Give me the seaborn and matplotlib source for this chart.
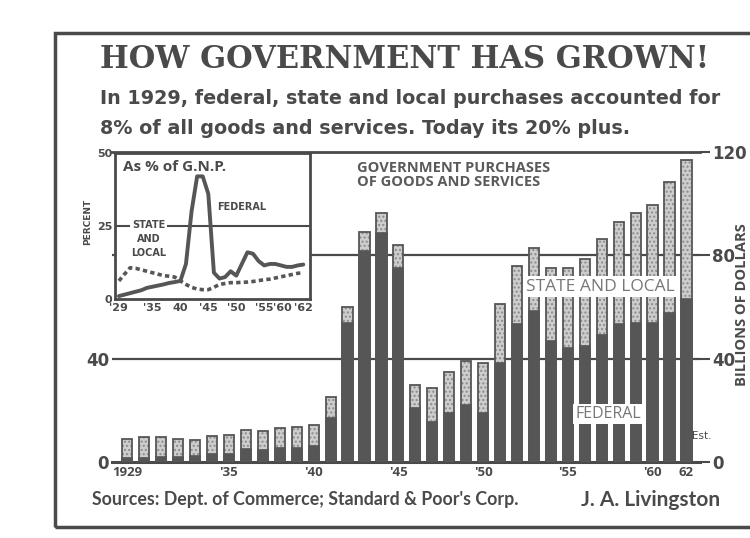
import matplotlib
matplotlib.use("Agg")
import matplotlib.pyplot as plt
import seaborn as sns
import pandas as pd
from matplotlib.patches import Rectangle

# ---------------- data ----------------
years = list(range(1929, 1963))
total_purchases = [9.0, 9.5, 9.7, 8.8, 8.5, 10.0, 10.5, 12.5, 12.0, 13.2, 13.5, 14.5,
                   25.0, 60.0, 89.0, 96.5, 84.0, 30.0, 28.5, 35.0, 39.0, 38.5,
                   61.0, 76.0, 83.0, 75.0, 75.0, 78.5, 86.5, 93.0, 96.5, 99.5, 108.5, 117.0]
federal_purchases = [1.5, 1.6, 1.8, 1.8, 2.2, 3.0, 3.0, 5.0, 4.8, 5.5, 5.3, 6.2,
                     17.0, 54.0, 81.5, 88.5, 75.0, 21.0, 15.5, 19.0, 22.0, 19.0,
                     38.5, 53.5, 58.5, 47.0, 44.0, 45.0, 49.0, 53.5, 54.0, 54.0, 57.7, 63.0]
federal_pct_gnp = [1.0, 1.5, 2.0, 2.5, 3.0, 3.8, 4.2, 4.6, 5.0, 5.5, 5.8, 6.2,
                   12.0, 30.0, 42.0, 42.0, 36.0, 9.0, 7.0, 7.5, 9.5, 8.0,
                   12.0, 16.0, 15.5, 13.0, 11.5, 12.0, 12.0, 11.5, 11.0, 11.0, 11.5, 11.8]
state_local_pct_gnp = [6.2, 8.5, 10.7, 10.5, 10.0, 9.5, 9.0, 8.5, 8.0, 7.8, 7.5, 6.2,
                       5.0, 4.0, 3.4, 3.2, 3.2, 4.0, 5.0, 5.3, 5.6, 5.6,
                       5.7, 5.8, 6.0, 6.3, 6.6, 6.8, 7.2, 7.6, 8.0, 8.4, 8.8, 9.0]
bar_tick_years = [1929, 1935, 1940, 1945, 1950, 1955, 1960, 1962]
bar_tick_labels = ["1929", "'35", "'40", "'45", "'50", "'55", "'60", "62"]
inset_tick_years = [1929, 1935, 1940, 1945, 1950, 1955, 1960, 1962]
inset_tick_labels = ["'29", "'35", "40", "'45", "'50", "'55", "'60", "'62"]

df = pd.DataFrame({"year": [str(y) for y in years],
                   "total": total_purchases,
                   "federal": federal_purchases})
dfp = pd.DataFrame({"year": years, "federal": federal_pct_gnp,
                    "state": state_local_pct_gnp})

# ---------------- style ----------------
sns.set_style("white")
plt.rcParams["font.family"] = ["DejaVu Sans"]
plt.rcParams["hatch.linewidth"] = 1.0
INK = "#4a4a4a"
DARK = "#565656"
LIGHT = "#cdcdcd"

W, H = 750, 538
fig = plt.figure(figsize=(7.5, 5.38), dpi=100)
fig.patch.set_facecolor("white")

def fx(x):
    return x / W

def fy(y):
    return 1 - y / H

# outer frame
fig.patches.append(Rectangle((fx(55), fy(527)), fx(760) - fx(55), fy(33) - fy(527),
                             transform=fig.transFigure, fill=False,
                             edgecolor=INK, linewidth=2.5, zorder=0))

# ---------------- main axes ----------------
ax = fig.add_axes([fx(112), fy(462), fx(700) - fx(112), fy(152) - fy(462)])
ax.set_facecolor("none")
sns.barplot(data=df, x="year", y="total", color=LIGHT, width=0.6,
            edgecolor="#8c8c8c", linewidth=0, saturation=1, ax=ax, zorder=3,
            hatch="....")
sns.barplot(data=df, x="year", y="federal", color=DARK, width=0.6,
            edgecolor=DARK, linewidth=1.2, saturation=1, ax=ax, zorder=4)
sns.barplot(data=df, x="year", y="total", color=DARK, width=0.6, fill=False,
            linewidth=1.3, ax=ax, zorder=5)
ax.set_xlim(-0.9, 33.8)
ax.set_ylim(0, 120)
ax.axhline(40, color=INK, lw=1.6, zorder=1)
ax.axhline(80, color=INK, lw=1.6, zorder=1)
for s in ["left", "right"]:
    ax.spines[s].set_visible(False)
ax.spines["top"].set_color(INK)
ax.spines["top"].set_linewidth(2)
ax.spines["bottom"].set_color(INK)
ax.spines["bottom"].set_linewidth(2.2)
ax.set_xlabel("")
ax.set_ylabel("")
pos = [years.index(y) for y in bar_tick_years]
ax.set_xticks(pos)
ax.set_xticklabels(bar_tick_labels, fontsize=9.5, color=INK, fontweight="bold",
                   fontfamily="Open Sans")
ax.tick_params(axis="x", length=0, pad=3)
ax.set_yticks([0, 40])
ax.set_yticklabels(["0", "40"], fontsize=12, color=INK, fontweight="bold")
ax.tick_params(axis="y", length=0, pad=2)

axr = ax.twinx()
axr.set_ylim(0, 120)
axr.set_yticks([0, 40, 80, 120])
axr.set_yticklabels(["0", "40", "80", "120"], fontsize=12, color=INK, fontweight="bold")
axr.tick_params(axis="y", length=7, width=1.5, color=INK, pad=2)
for s in axr.spines.values():
    s.set_visible(False)
axr.grid(False)

# labels inside main chart
ax.text(27.9, 67.8, "STATE AND LOCAL", ha="center", va="center", fontsize=12.5,
        color="#777777", fontfamily="Open Sans", zorder=7,
        bbox=dict(boxstyle="square,pad=0.15", fc="white", ec="none"))
ax.text(28.4, 18.6, "FEDERAL", ha="center", va="center", fontsize=11.5,
        color="#777777", fontfamily="Open Sans", zorder=7,
        bbox=dict(boxstyle="square,pad=0.15", fc="white", ec="none"))
ax.text(33.35, 10, "Est.", ha="left", va="center", fontsize=7.5, color=INK, zorder=7)

fig.text(fx(357), fy(175), "GOVERNMENT PURCHASES\nOF GOODS AND SERVICES",
         ha="left", va="center", fontsize=10.5, color="#5a5a5a",
         fontfamily="Open Sans", fontweight="bold", linespacing=1.05)
fig.text(fx(742), fy(305), "BILLIONS OF DOLLARS", rotation=90, ha="center",
         va="center", fontsize=10.5, color=INK, fontweight="bold",
         fontfamily="Open Sans")

# ---------------- inset ----------------
ins = fig.add_axes([fx(115), fy(299), fx(310) - fx(115), fy(153) - fy(299)])
ins.set_facecolor("white")
ins.set_zorder(5)
sns.lineplot(data=dfp, x="year", y="federal", ax=ins, color=DARK, lw=2.8, zorder=3)
sns.lineplot(data=dfp, x="year", y="state", ax=ins, color=DARK, lw=2.6,
             linestyle=(0, (1.2, 0.9)), zorder=3)
ins.set_xlim(1928.3, 1963.2)
ins.set_ylim(0, 50)
ins.axhline(25, color=INK, lw=1.5, zorder=1)
for s in ins.spines.values():
    s.set_color(INK)
    s.set_linewidth(2)
ins.set_xlabel("")
ins.set_ylabel("")
ins.set_xticks(years, minor=True)
ins.set_xticks(inset_tick_years)
ins.set_xticklabels(inset_tick_labels, fontsize=8, color=INK, fontweight="bold")
labs = ins.get_xticklabels()
labs[-2].set_horizontalalignment("right")
ins.tick_params(axis="x", which="both", direction="in", length=4, width=1, color=INK, pad=3)
ins.set_yticks([0, 25, 50])
ins.set_yticklabels(["0", "25", "50"], fontsize=8, color=INK, fontweight="bold")
ins.tick_params(axis="y", length=0, pad=2)
ins.text(1929.8, 47.5, "As % of G.N.P.", ha="left", va="top", fontsize=11,
         color=INK, fontweight="bold", fontfamily="Open Sans")
ins.text(1946.6, 31.5, "FEDERAL", ha="left", va="center", fontsize=7,
         color=INK, fontweight="bold")
ins.text(1934.3, 20.5, "STATE\nAND\nLOCAL", ha="center", va="center", fontsize=7,
         color=INK, fontweight="bold", linespacing=1.5,
         bbox=dict(boxstyle="square,pad=0.1", fc="white", ec="none"))
fig.text(fx(88), fy(222), "PERCENT", rotation=90, ha="center", va="center",
         fontsize=6.5, color=INK, fontweight="bold")

# ---------------- titles ----------------
fig.text(fx(100), fy(60), "HOW GOVERNMENT HAS GROWN!", ha="left", va="center",
         fontsize=22, color=INK, fontweight="bold", fontfamily="DejaVu Serif")
fig.text(fx(100), fy(99), "In 1929, federal, state and local purchases accounted for",
         ha="left", va="center", fontsize=13.8, color=INK, fontweight="bold",
         fontfamily="DejaVu Sans")
fig.text(fx(100), fy(129), "8% of all goods and services. Today its 20% plus.",
         ha="left", va="center", fontsize=13.8, color=INK, fontweight="bold",
         fontfamily="DejaVu Sans")
fig.text(fx(92), fy(500), "Sources: Dept. of Commerce; Standard & Poor's Corp.",
         ha="left", va="center", fontsize=12.8, color=INK, fontweight="bold",
         fontfamily="Lato")
fig.text(fx(720), fy(500), "J. A. Livingston", ha="right", va="center",
         fontsize=15, color=INK, fontweight="bold", fontfamily="Lato")

fig.savefig("out.png", dpi=100, facecolor="white")
